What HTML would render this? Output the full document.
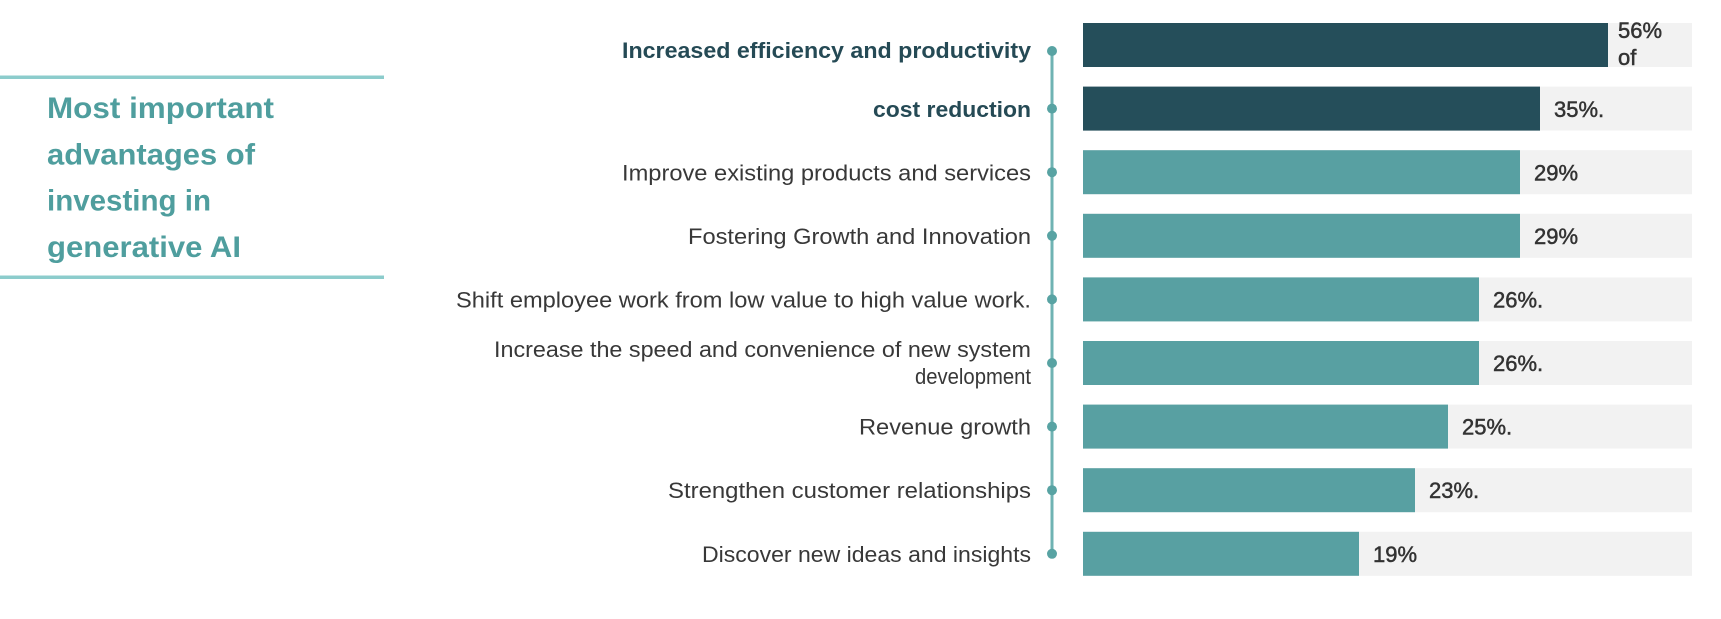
<!DOCTYPE html>
<html>
<head>
<meta charset="utf-8">
<style>
  html, body { margin: 0; padding: 0; background: #ffffff; }
  body { width: 1721px; height: 619px; overflow: hidden; }
  svg { display: block; }
  .lbl { font-family: "Liberation Sans", sans-serif; font-size: 22px; fill: #383838; }
  .lblb { font-family: "Liberation Sans", sans-serif; font-size: 22px; font-weight: bold; fill: #254a55; }
  .val { font-family: "Liberation Sans", sans-serif; font-size: 22px; fill: #333333; stroke: #333333; stroke-width: 0.5; }
  .title { font-family: "Liberation Sans", sans-serif; font-size: 30px; font-weight: bold; fill: #4f9e9e; }
</style>
</head>
<body>
<svg width="1721" height="619" viewBox="0 0 1721 619" xmlns="http://www.w3.org/2000/svg">
  <rect x="0" y="0" width="1721" height="619" fill="#ffffff"/>

  <!-- Title block -->
  <rect x="0" y="75.5" width="384" height="3.5" fill="#8ccccc"/>
  <rect x="0" y="275.5" width="384" height="3.5" fill="#8ccccc"/>
  <text class="title" x="47" y="118" textLength="227" lengthAdjust="spacingAndGlyphs">Most important</text>
  <text class="title" x="47" y="164.5" textLength="208" lengthAdjust="spacingAndGlyphs">advantages of</text>
  <text class="title" x="47" y="210.5" textLength="164" lengthAdjust="spacingAndGlyphs">investing in</text>
  <text class="title" x="47" y="257" textLength="194" lengthAdjust="spacingAndGlyphs">generative AI</text>

  <!-- Gray backgrounds -->
  <g fill="#f2f2f2">
    <rect x="1083" y="23" width="609" height="44"/>
    <rect x="1083" y="86.6" width="609" height="44"/>
    <rect x="1083" y="150.2" width="609" height="44"/>
    <rect x="1083" y="213.8" width="609" height="44"/>
    <rect x="1083" y="277.4" width="609" height="44"/>
    <rect x="1083" y="341" width="609" height="44"/>
    <rect x="1083" y="404.6" width="609" height="44"/>
    <rect x="1083" y="468.2" width="609" height="44"/>
    <rect x="1083" y="531.8" width="609" height="44"/>
  </g>

  <!-- Bars -->
  <rect x="1083" y="23" width="525" height="44" fill="#254e5a"/>
  <rect x="1083" y="86.6" width="457" height="44" fill="#254e5a"/>
  <g fill="#58a0a2">
    <rect x="1083" y="150.2" width="437" height="44"/>
    <rect x="1083" y="213.8" width="437" height="44"/>
    <rect x="1083" y="277.4" width="396" height="44"/>
    <rect x="1083" y="341" width="396" height="44"/>
    <rect x="1083" y="404.6" width="365" height="44"/>
    <rect x="1083" y="468.2" width="332" height="44"/>
    <rect x="1083" y="531.8" width="276" height="44"/>
  </g>

  <!-- Value labels -->
  <text class="val" x="1618" y="38">56%</text>
  <text class="val" x="1618" y="65">of</text>
  <text class="val" x="1554" y="117">35%.</text>
  <text class="val" x="1534" y="180.5">29%</text>
  <text class="val" x="1534" y="244">29%</text>
  <text class="val" x="1493" y="307.5">26%.</text>
  <text class="val" x="1493" y="371">26%.</text>
  <text class="val" x="1462" y="434.5">25%.</text>
  <text class="val" x="1429" y="498">23%.</text>
  <text class="val" x="1373" y="562">19%</text>

  <!-- Connector line and dots -->
  <rect x="1050.5" y="51" width="3" height="503" fill="#6fb3b3"/>
  <g fill="#58a3a3">
    <circle cx="1052" cy="51" r="5"/>
    <circle cx="1052" cy="108.6" r="5"/>
    <circle cx="1052" cy="172.2" r="5"/>
    <circle cx="1052" cy="235.8" r="5"/>
    <circle cx="1052" cy="299.4" r="5"/>
    <circle cx="1052" cy="363" r="5"/>
    <circle cx="1052" cy="426.6" r="5"/>
    <circle cx="1052" cy="490.2" r="5"/>
    <circle cx="1052" cy="553.8" r="5"/>
  </g>

  <!-- Category labels (right aligned at x=1031) -->
  <text class="lblb" x="1031" y="58" text-anchor="end" textLength="409" lengthAdjust="spacingAndGlyphs">Increased efficiency and productivity</text>
  <text class="lblb" x="1031" y="117" text-anchor="end" textLength="158" lengthAdjust="spacingAndGlyphs">cost reduction</text>
  <text class="lbl" x="1031" y="180.5" text-anchor="end" textLength="409" lengthAdjust="spacingAndGlyphs">Improve existing products and services</text>
  <text class="lbl" x="1031" y="244" text-anchor="end" textLength="343" lengthAdjust="spacingAndGlyphs">Fostering Growth and Innovation</text>
  <text class="lbl" x="1031" y="307.5" text-anchor="end" textLength="575" lengthAdjust="spacingAndGlyphs">Shift employee work from low value to high value work.</text>
  <text class="lbl" x="1031" y="357" text-anchor="end" textLength="537" lengthAdjust="spacingAndGlyphs">Increase the speed and convenience of new system</text>
  <text class="lbl" x="1031" y="384" text-anchor="end" textLength="116" lengthAdjust="spacingAndGlyphs">development</text>
  <text class="lbl" x="1031" y="434.5" text-anchor="end" textLength="172" lengthAdjust="spacingAndGlyphs">Revenue growth</text>
  <text class="lbl" x="1031" y="498" text-anchor="end" textLength="363" lengthAdjust="spacingAndGlyphs">Strengthen customer relationships</text>
  <text class="lbl" x="1031" y="562" text-anchor="end" textLength="329" lengthAdjust="spacingAndGlyphs">Discover new ideas and insights</text>
</svg>
</body>
</html>
